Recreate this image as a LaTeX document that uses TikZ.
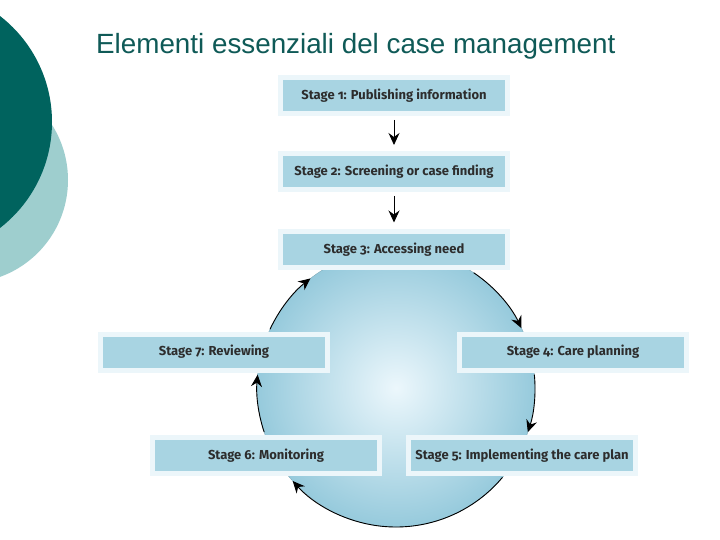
\documentclass[tikz,border=0pt]{standalone}
\usepackage{fontspec}
\setmainfont{Fira Sans}[Numbers=OldStyle]
\newfontfamily\titlefont{Liberation Sans}
\usetikzlibrary{arrows.meta,calc}
\definecolor{darkteal}{RGB}{0,99,94}
\definecolor{lightteal}{RGB}{158,206,206}
\definecolor{titlecol}{RGB}{15,90,87}
\definecolor{boxfill}{RGB}{168,212,226}
\definecolor{boxborder}{RGB}{236,246,250}
\definecolor{circin}{RGB}{236,247,252}
\definecolor{circout}{RGB}{150,202,220}
\definecolor{txt}{RGB}{45,45,45}
\tikzset{
  stagebox/.style={fill=boxfill, draw=boxborder, line width=5pt, minimum width=227pt,
    minimum height=36pt, inner sep=0pt, font=\bfseries\fontsize{13}{15}\selectfont, text=txt},
  tipstyle/.style={-{Stealth[length=12pt,width=11pt,inset=4pt]}},
  flow/.style={line width=0.9pt, tipstyle},
  cyc/.style={line width=0.9pt, tipstyle}
}
\begin{document}
\begin{tikzpicture}[x=1pt,y=-1pt]
\useasboundingbox (0,0) rectangle (720,540);
\fill[white] (0,0) rectangle (720,540);
% decorative circles
\begin{scope}
\clip (0,0) rectangle (720,540);
\fill[lightteal] (-35,180) circle[radius=103];
\fill[darkteal] (-82,122) circle[radius=134];
\end{scope}
% title
\node[anchor=base west, inner sep=0pt, text=titlecol, font=\titlefont\fontsize{27.8}{32}\selectfont] (title) at (96,54) {Elementi essenziali del case management};
% big circle
\coordinate (C) at (396,388);
\shade[inner color=circin, outer color=circout] (C) circle[radius=139];
\draw[circout!80!black, line width=0.3pt] (C) circle[radius=139];
% cycle arcs
\coordinate (a1) at ($(C)+(-56:139)$);
\coordinate (a2) at ($(C)+(-5.5:139)$);
\coordinate (a3) at ($(C)+(40:139)$);
\coordinate (a4) at ($(C)+(161.5:139)$);
\coordinate (a5) at ($(C)+(-155:139)$);
\draw[cyc] (a1) arc[start angle=-56, end angle=-25.5, radius=139];
\draw[cyc] (a2) arc[start angle=-5.5, end angle=18.5, radius=139];
\draw[cyc] (a3) arc[start angle=40, end angle=138, radius=139];
\draw[cyc] (a4) arc[start angle=161.5, end angle=185.5, radius=139];
\draw[cyc] (a5) arc[start angle=-155, end angle=-128, radius=139];
% boxes
\node[stagebox] (b1) at (394,96) {Stage 1: Publishing information};
\node[stagebox] (b2) at (394,172) {Stage 2: Screening or case finding};
\node[stagebox] (b3) at (394,249.5) {Stage 3: Accessing need};
\node[stagebox] (b4) at (573,352) {Stage 4: Care planning};
\node[stagebox] (b5) at (522,455.5) {Stage 5: Implementing the care plan};
\node[stagebox] (b6) at (266,455.5) {Stage 6: Monitoring};
\node[stagebox] (b7) at (214,352) {Stage 7: Reviewing};
\draw[flow, shorten <=3.5pt, shorten >=6.5pt] (b1) -- (b2);
\draw[flow, shorten <=3.5pt, shorten >=6.5pt] (b2) -- (b3);
\end{tikzpicture}
\end{document}
